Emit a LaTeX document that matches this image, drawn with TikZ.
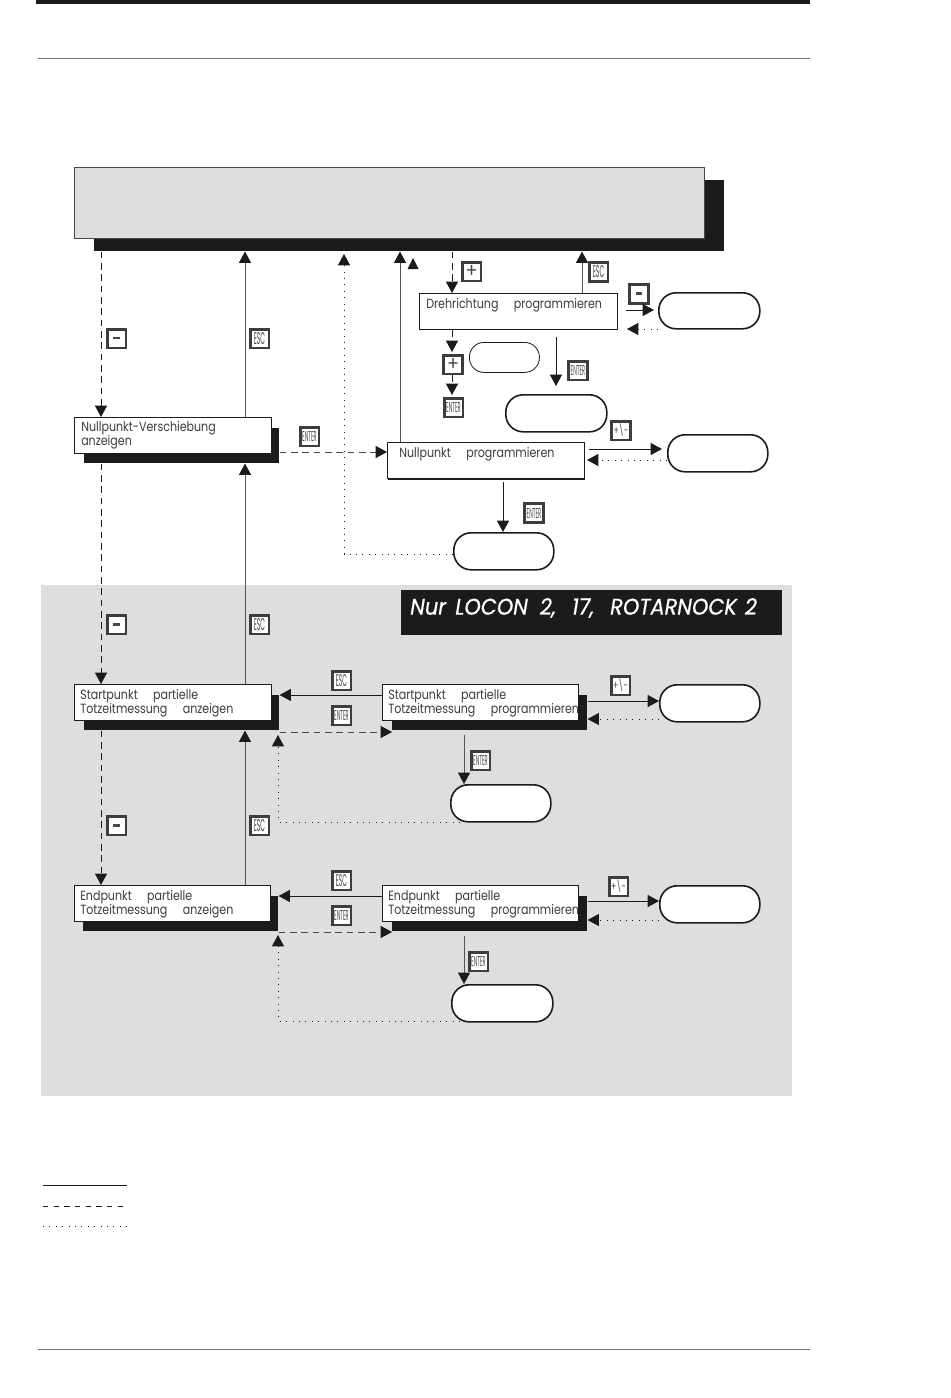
\documentclass[tikz,border=0pt]{standalone}
\usepackage{fontspec}
\setmainfont[FakeStretch=0.83]{Poppins}
\newfontfamily\bannerfont[FakeStretch=0.92,FakeBold=0.6]{Poppins}
\usetikzlibrary{arrows.meta}
\definecolor{panelgrey}{HTML}{DEDEDE}
\definecolor{ink}{HTML}{1C1A1A}
\newcommand{\gp}{\hspace{11.5pt}}
\tikzset{
  x=0.75pt,y=-0.75pt,
  flow/.style={line width=0.75pt,-{Triangle[length=8.5pt,width=9pt,color=ink]},draw=ink},
  flowg/.style={flow,draw=ink!75},
  dashflow/.style={flow,dash pattern=on 5pt off 3.5pt},
  dotflow/.style={flow,line width=0.7pt,dash pattern=on 0.8pt off 4pt},
  txt/.style={font=\fontsize{10pt}{10.6pt}\selectfont,align=left,text=ink!85,inner sep=0pt,anchor=north west},
  plainbox/.style={draw=ink,fill=white,line width=0.7pt,inner sep=0pt,anchor=north west},
  shadowbox/.style={fill=ink,inner sep=0pt,anchor=north west},
  oval/.style={draw=ink,fill=white,line width=1.2pt,rounded corners=13pt,inner sep=0pt,anchor=north west},
  keyb/.style={draw=ink!85,fill=white,line width=2pt,inner sep=0pt,anchor=center,minimum width=14pt,minimum height=14pt,text=ink!80},
}
\newcommand{\panelbox}[6]{%
  \node[#1,minimum width={(#5-#3)*0.75pt},minimum height={(#6-#4)*0.75pt}] (#2) at (#3,#4) {};}
\newcommand{\keybtn}[4]{\node[keyb] (#1) at (#2,#3) {#4};}
\newcommand{\kesc}{\resizebox{8.5pt}{9pt}{ESC}}
\newcommand{\kent}{\resizebox{11pt}{7.5pt}{ENTER}}
\newcommand{\kpm}{\resizebox{11pt}{8pt}{+\textbackslash-}}
\newcommand{\kplus}{\resizebox{9pt}{9pt}{+}}
\newcommand{\kminus}{\rule[0.4pt]{5pt}{1.2pt}}
\begin{document}
\begin{tikzpicture}
\useasboundingbox (0,0) rectangle (950,1398);
% page furniture
\fill[ink] (36,0) rectangle (810,4);
\draw[ink!60,line width=0.6pt] (38,58) -- (810,58);
\draw[ink!60,line width=0.6pt] (38,1349) -- (810,1349);
% grey zone
\fill[panelgrey] (41,585) rectangle (792,1096);
% header
\panelbox{shadowbox}{headS}{94}{180}{724}{251}
\node[draw=ink!80,fill=panelgrey,line width=0.9pt,inner sep=0pt,anchor=north west,minimum width={630*0.75pt},minimum height={71*0.75pt}] (head) at (74,167) {};
% banner
\node[fill=ink,inner sep=0pt,anchor=north west,minimum width={381*0.75pt},minimum height={45*0.75pt}] (banner) at (401,590) {};
\node[font=\fontsize{17pt}{17pt}\bannerfont\itshape,text=white,anchor=west,inner sep=0pt] (bannerT) at (410,608) {Nur\hspace{7pt}LOCON\hspace{9pt}2,\hspace{12pt}17,\hspace{12pt}ROTARNOCK\hspace{6pt}2};
% boxes
\panelbox{shadowbox}{nvS}{84}{428}{279}{463}
\panelbox{plainbox}{nv}{74}{417}{271}{453}
\panelbox{plainbox}{dr}{419}{293}{617}{329}
\panelbox{shadowbox}{npS}{388}{443}{585}{480}
\panelbox{plainbox}{np}{387}{442}{584}{478}
\panelbox{shadowbox}{saS}{84}{695}{279}{730}
\panelbox{plainbox}{sa}{74}{684}{271}{720}
\panelbox{shadowbox}{spS}{392}{695}{587}{730}
\panelbox{plainbox}{sp}{382}{684}{578}{720}
\panelbox{shadowbox}{eaS}{83}{896}{278}{931}
\panelbox{plainbox}{ea}{74}{885}{270}{921}
\panelbox{shadowbox}{epS}{392}{896}{587}{931}
\panelbox{plainbox}{ep}{382}{885}{578}{921}
% ovals
\panelbox{oval}{o1}{658}{292}{759}{328}
\panelbox{oval,line width=0.6pt,rounded corners=11pt}{o2}{469}{342}{539}{372}
\panelbox{oval}{o3}{505}{394}{606}{431}
\panelbox{oval}{o4}{667}{434}{767}{471}
\panelbox{oval}{o5}{453}{532}{553}{569}
\panelbox{oval}{o6}{659}{684}{759}{721}
\panelbox{oval}{o7}{450}{784}{550}{821}
\panelbox{oval}{o8}{659}{885}{759}{922}
\panelbox{oval}{o9}{451}{984}{552}{1021}
% box texts
\node[txt] (t1) at (426,298) {Drehrichtung\gp programmieren};
\node[txt] (t2) at (81,421) {Nullpunkt-Verschiebung\\anzeigen};
\node[txt] (t3) at (399,447) {Nullpunkt\gp programmieren};
\node[txt] (t4) at (80,689) {Startpunkt\gp partielle\\Totzeitmessung\gp anzeigen};
\node[txt] (t5) at (388,689) {Startpunkt\gp partielle\\Totzeitmessung\gp programmieren};
\node[txt] (t6) at (80,890) {Endpunkt\gp partielle\\Totzeitmessung\gp anzeigen};
\node[txt] (t7) at (388,890) {Endpunkt\gp partielle\\Totzeitmessung\gp programmieren};
% keys
\keybtn{k1}{471.5}{271.5}{\kplus}
\keybtn{k2}{598.5}{272}{\kesc}
\keybtn{k3}{639}{294}{\rule[0.4pt]{5pt}{2pt}}
\keybtn{k4}{578}{370.5}{\kent}
\keybtn{k5}{453}{364.5}{\kplus}
\keybtn{k6}{453.5}{407.5}{\kent}
\keybtn{k7}{621}{430.5}{\kpm}
\keybtn{k8}{534}{513}{\kent}
\keybtn{k9}{116.5}{338.5}{\kminus}
\keybtn{k10}{259.5}{338.5}{\kesc}
\keybtn{k11}{309.5}{436.5}{\kent}
\keybtn{k12}{116.5}{624.5}{\rule[0.4pt]{5pt}{2pt}}
\keybtn{k13}{259.5}{624.5}{\kesc}
\keybtn{k14}{341.5}{680.5}{\kesc}
\keybtn{k15}{341.5}{715.5}{\kent}
\keybtn{k16}{620.5}{685.5}{\kpm}
\keybtn{k17}{480.5}{760.5}{\kent}
\keybtn{k18}{116.5}{825.5}{\rule[0.4pt]{5pt}{2pt}}
\keybtn{k19}{259.5}{825.5}{\kesc}
\keybtn{k20}{341.5}{880.5}{\kesc}
\keybtn{k21}{341.5}{915.5}{\kent}
\keybtn{k22}{618.5}{886.5}{\kpm}
\keybtn{k23}{478.5}{961.5}{\kent}
% connectors, main column
\draw[dashflow] (headS.south -| 101,0) -- (nv.north -| 101,0);
\draw[dashflow] (nvS.south -| 101,0) -- (sa.north -| 101,0);
\draw[dashflow] (saS.south -| 101,0) -- (ea.north -| 101,0);
\draw[flowg] (nv.north -| 245,0) -- (headS.south -| 245,0);
\draw[flowg] (sa.north -| 245,0) -- (nvS.south -| 245,0);
\draw[flowg] (ea.north -| 245,0) -- (saS.south -| 245,0);
% Nullpunkt
\draw[dashflow,draw=ink!80] (nvS.east |- 0,452) -- (np.west |- 0,452);
\draw[dotflow] (o5.west |- 0,554) -| (344,254);
\draw[flowg] (np.north -| 400,0) -- (headS.south -| 400,0);
\draw[flow] (503,482) -- (o5.north -| 503,0);
\draw[flow] (589,449) -- (662,449);
\draw[dotflow] (o4.west |- 0,460) -- (587,460);
% isolated arrowhead
\coordinate (isoA) at (407.5,269);
\coordinate (isoB) at (418.5,269);
\coordinate (isoT) at (413,258);
\fill[ink] (isoA) -- (isoB) -- (isoT) -- cycle;
% Drehrichtung
\draw[dashflow] (headS.south -| 452,0) -- (dr.north -| 452,0);
\draw[flowg] (dr.north -| 582,0) -- (headS.south -| 582,0);
\draw[flow] (626,310) -- (654,310);
\draw[dotflow] (o1.west |- 0,329) -- (627,329);
\draw[dashflow] (dr.south -| 452,0) -- (452,352);
\draw[dashflow] (k5.south -| 452,0) -- (452,395);
\draw[flow] (556,337) -- (556,386);
% Startpunkt
\draw[flow] (sp.west |- 0,695) -- (saS.east |- 0,695);
\draw[dashflow,draw=ink!80] (saS.east |- 0,732) -- (spS.west |- 0,732);
\draw[dotflow] (460,822) -| (278,735);
\draw[flowg] (464,735) -- (o7.north -| 464,0);
\draw[flow] (spS.east |- 0,701) -- (o6.west |- 0,701);
\draw[dotflow] (o6.west |- 0,719) -- (spS.east |- 0,719);
% Endpunkt
\draw[flow] (ep.west |- 0,896) -- (eaS.east |- 0,896);
\draw[dashflow,draw=ink!80] (eaS.east |- 0,932) -- (epS.west |- 0,932);
\draw[dotflow] (460,1021) -| (278,935);
\draw[flowg] (464,936) -- (o9.north -| 464,0);
\draw[flow] (epS.east |- 0,901) -- (o8.west |- 0,901);
\draw[dotflow] (o8.west |- 0,920) -- (epS.east |- 0,920);
% legend
\coordinate (l1) at (43,1185); \coordinate (l1e) at (127,1185);
\coordinate (l2) at (43,1206); \coordinate (l2e) at (123,1206);
\coordinate (l3) at (43,1226); \coordinate (l3e) at (127,1226);
\draw[ink,line width=0.6pt] (l1) -- (l1e);
\draw[ink,line width=0.5pt,dash pattern=on 4pt off 4pt] (l2) -- (l2e);
\draw[ink,line width=0.6pt,dash pattern=on 0.8pt off 4pt] (l3) -- (l3e);
\end{tikzpicture}
\end{document}
